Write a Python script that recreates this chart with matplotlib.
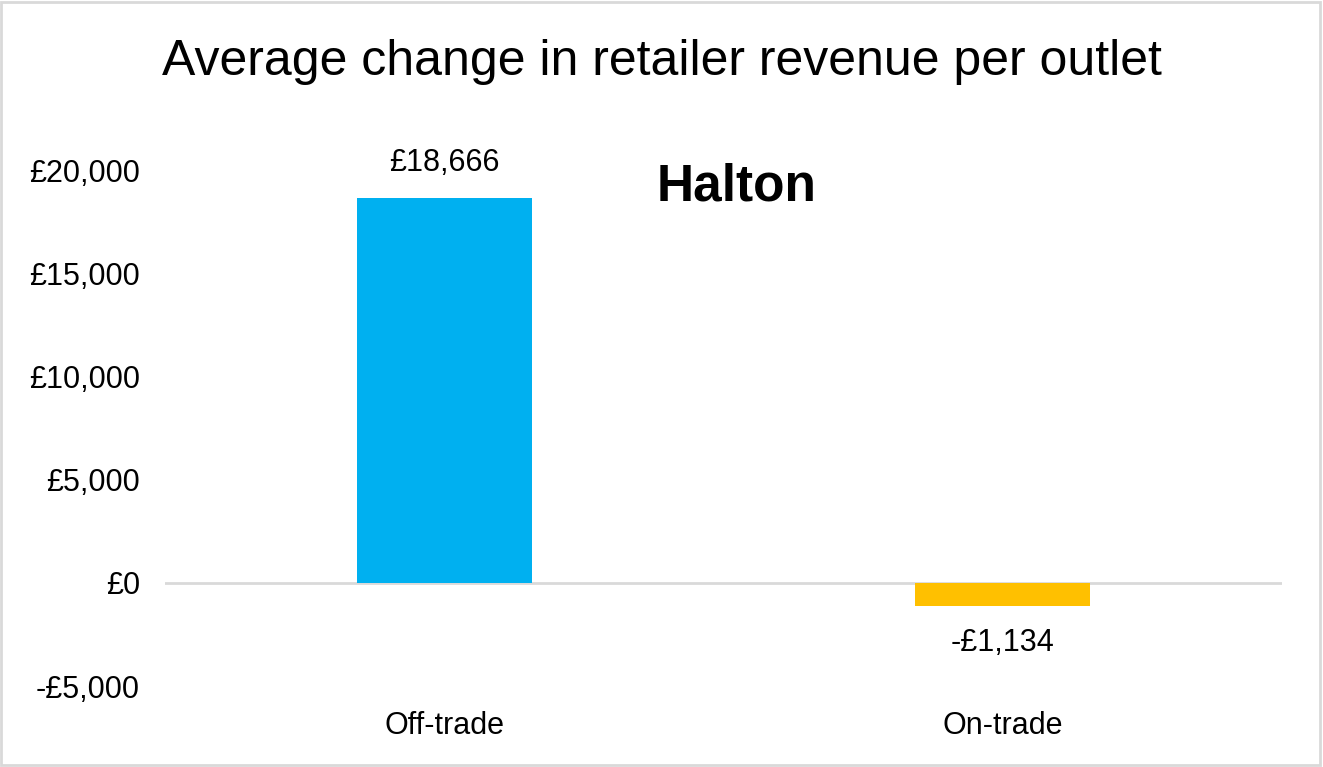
import matplotlib
matplotlib.use("Agg")
import matplotlib.pyplot as plt
from matplotlib.patches import Rectangle

categories = ["Off-trade", "On-trade"]
values = [18666, -1134]
labels = ["£18,666", "-£1,134"]
colors = ["#00B0F0", "#FFC000"]
yticks = [-5000, 0, 5000, 10000, 15000, 20000]
ytick_labels = ["-£5,000", "£0", "£5,000", "£10,000", "£15,000", "£20,000"]

plt.rcParams['font.family'] = ['Liberation Sans', 'DejaVu Sans']

fig = plt.figure(figsize=(13.23, 7.67), dpi=100)
ax = fig.add_axes([165/1323, 1 - 686/767, (1282-165)/1323, (686-170)/767])

x = [0, 1]
ax.bar(x, values, width=0.313, color=colors, zorder=3)
ax.axhline(0, color="#D9D9D9", lw=2, zorder=2)

for xi, v, lab in zip(x, values, labels):
    if v >= 0:
        ax.annotate(lab, (xi, v), xytext=(0, 14), textcoords="offset points",
                    ha="center", va="bottom", fontsize=22, annotation_clip=False)
    else:
        ax.annotate(lab, (xi, v), xytext=(0, -16), textcoords="offset points",
                    ha="center", va="top", fontsize=22, annotation_clip=False)

ax.set_xlim(-0.5, 1.5)
ax.set_ylim(-5000, 20000)
ax.set_yticks(yticks)
ax.set_yticklabels(ytick_labels, fontsize=22)
ax.set_xticks(x)
ax.set_xticklabels(categories, fontsize=22)
ax.tick_params(axis="y", length=0, pad=18)
ax.tick_params(axis="x", length=0, pad=18)
for s in ax.spines.values():
    s.set_visible(False)

fig.text(0.5, 1 - 62/767, "Average change in retailer revenue per outlet",
         ha="center", va="center", fontsize=36)
fig.text(737/1323, 1 - 187/767, "Halton", ha="center", va="center",
         fontsize=37, fontweight="bold")

fig.patches.append(Rectangle((0.001, 0.002), 0.997, 0.995, transform=fig.transFigure,
                             fill=False, edgecolor="#D9D9D9", lw=2))

fig.savefig("out.png", dpi=100)
